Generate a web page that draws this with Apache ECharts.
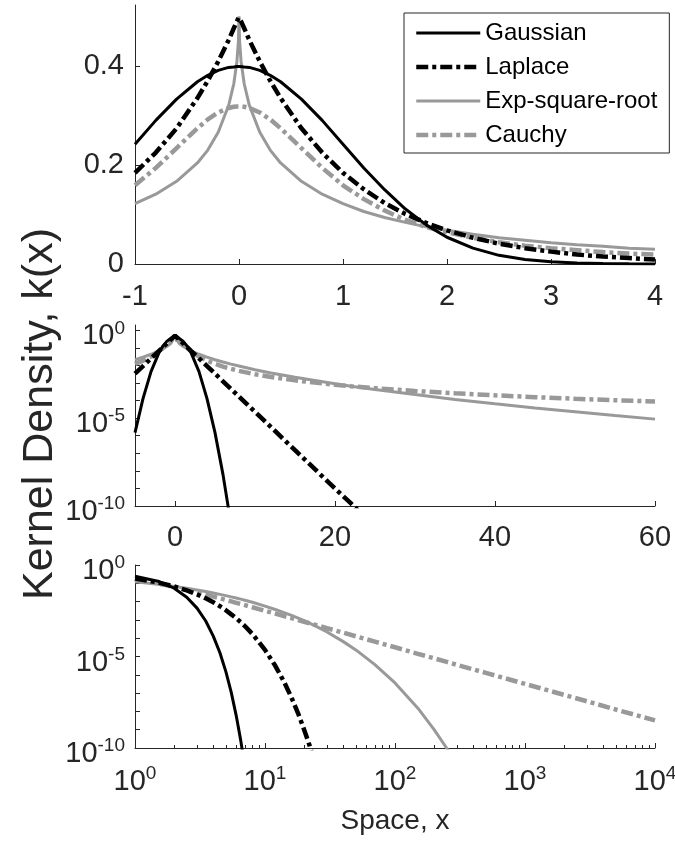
<!DOCTYPE html>
<html>
<head>
<meta charset="utf-8">
<script src="https://cdn.jsdelivr.net/npm/echarts@6/dist/echarts.min.js"></script>
<style>
html, body { margin: 0; padding: 0; background: #fff; }
#main { width: 675px; height: 841px; }
</style>
</head>
<body>
<div id="main"></div>
<script>
var names = ['Gaussian', 'Laplace', 'Exp-square-root', 'Cauchy'];

// top panel, linear axes
var x1 = [-1, -0.8, -0.6, -0.4, -0.3, -0.2, -0.1, -0.05, -0.02, -0.005, 0, 0.005, 0.02, 0.05, 0.1, 0.2, 0.3, 0.4, 0.6, 0.8,
    1, 1.2, 1.4, 1.6, 1.8, 2, 2.25, 2.5, 2.75, 3, 3.25, 3.5, 3.75, 4];
var gauss1 = [0.242, 0.290, 0.333, 0.368, 0.381, 0.391, 0.397, 0.398, 0.399, 0.399, 0.399, 0.399, 0.399, 0.398, 0.397, 0.391, 0.381, 0.368, 0.333, 0.290,
    0.242, 0.194, 0.150, 0.111, 0.079, 0.054, 0.032, 0.0175, 0.0091, 0.0044, 0.0020, 0.0009, 0.0004, 0.0001];
var laplace1 = [0.184, 0.225, 0.274, 0.335, 0.370, 0.409, 0.452, 0.476, 0.490, 0.4975, 0.5, 0.4975, 0.490, 0.476, 0.452, 0.409, 0.370, 0.335, 0.274, 0.225,
    0.184, 0.151, 0.123, 0.101, 0.083, 0.068, 0.053, 0.041, 0.032, 0.025, 0.019, 0.015, 0.012, 0.009];
var expsq1 = [0.122, 0.141, 0.167, 0.204, 0.230, 0.266, 0.320, 0.364, 0.409, 0.452, 0.5, 0.452, 0.409, 0.364, 0.320, 0.266, 0.230, 0.204, 0.167, 0.141,
    0.122, 0.106, 0.094, 0.084, 0.075, 0.068, 0.060, 0.053, 0.048, 0.043, 0.039, 0.036, 0.032, 0.030];
var cauchy1 = [0.159, 0.194, 0.234, 0.274, 0.292, 0.306, 0.315, 0.3175, 0.318, 0.318, 0.318, 0.318, 0.318, 0.3175, 0.315, 0.306, 0.292, 0.274, 0.234, 0.194,
    0.159, 0.131, 0.108, 0.089, 0.075, 0.064, 0.053, 0.044, 0.037, 0.032, 0.028, 0.024, 0.021, 0.019];

// middle panel, log y
var x2 = [-5, -4, -3, -2, -1.5, -1, -0.5, 0, 0.5, 1, 1.5, 2, 3, 4, 5, 6, 7, 8, 10, 12, 15, 20, 22, 25, 30, 35, 40, 45, 50, 55, 60];
var gauss2 = [1.5e-6, 1.3e-4, 4.4e-3, 0.054, 0.130, 0.242, 0.352, 0.399, 0.352, 0.242, 0.130, 0.054, 4.4e-3, 1.3e-4, 1.5e-6, 6.1e-9, 9.1e-12,
    null, null, null, null, null, null, null, null, null, null, null, null, null, null];
var laplace2 = [3.4e-3, 9.2e-3, 0.0249, 0.0677, 0.112, 0.184, 0.303, 0.5, 0.303, 0.184, 0.112, 0.0677, 0.0249, 9.2e-3, 3.4e-3, 1.24e-3, 4.6e-4,
    1.7e-4, 2.3e-5, 3.1e-6, 1.5e-7, 1.0e-9, 1.4e-10, 6.9e-12, null, null, null, null, null, null, null];
var expsq2 = [0.0212, 0.0296, 0.0432, 0.0677, 0.0885, 0.122, 0.184, 0.5, 0.184, 0.122, 0.0885, 0.0677, 0.0432, 0.0296, 0.0212, 0.0157, 0.0119,
    9.2e-3, 5.7e-3, 3.7e-3, 2.1e-3, 9.0e-4, 6.6e-4, 4.3e-4, 2.2e-4, 1.16e-4, 6.5e-5, 3.8e-5, 2.3e-5, 1.4e-5, 8.8e-6];
var cauchy2 = [0.0122, 0.0187, 0.0318, 0.0637, 0.098, 0.159, 0.255, 0.318, 0.255, 0.159, 0.098, 0.0637, 0.0318, 0.0187, 0.0122, 8.6e-3, 6.4e-3,
    4.9e-3, 3.15e-3, 2.2e-3, 1.41e-3, 7.9e-4, 6.6e-4, 5.1e-4, 3.5e-4, 2.6e-4, 2.0e-4, 1.57e-4, 1.27e-4, 1.05e-4, 8.8e-5];

// bottom panel, log-log
var x3 = [1, 1.5, 2, 2.5, 3, 3.5, 4, 4.5, 5, 5.5, 6, 6.5, 7, 8, 10, 12, 14, 16, 18, 20, 22, 25, 30, 40, 50, 70, 100, 150, 200, 250, 300,
    500, 1000, 2000, 5000, 10000];
var gauss3 = [0.242, 0.130, 0.054, 0.0175, 4.4e-3, 8.7e-4, 1.3e-4, 1.6e-5, 1.5e-6, 1.1e-7, 6.1e-9, 2.7e-10, 9.1e-12,
    null, null, null, null, null, null, null, null, null, null, null, null, null, null, null, null, null, null, null, null, null, null, null];
var laplace3 = [0.184, 0.112, 0.0677, 0.0410, 0.0249, 0.0151, 9.2e-3, 5.6e-3, 3.4e-3, 2.0e-3, 1.24e-3, 7.5e-4, 4.6e-4, 1.7e-4, 2.3e-5, 3.1e-6,
    4.2e-7, 5.6e-8, 7.6e-9, 1.0e-9, 1.4e-10, 6.9e-12, null, null, null, null, null, null, null, null, null, null, null, null, null, null];
var expsq3 = [0.122, 0.0885, 0.0677, 0.0534, 0.0432, 0.0355, 0.0296, 0.0249, 0.0212, 0.0181, 0.0157, 0.0136, 0.0119, 9.2e-3, 5.7e-3, 3.7e-3,
    2.5e-3, 1.75e-3, 1.24e-3, 9.0e-4, 6.6e-4, 4.3e-4, 2.2e-4, 6.5e-5, 2.3e-5, 3.6e-6, 3.6e-7, 1.5e-8, 1.0e-9, 9.7e-11, 1.2e-11,
    null, null, null, null, null];
var cauchy3 = [0.159, 0.098, 0.0637, 0.0439, 0.0318, 0.0240, 0.0187, 0.0150, 0.0122, 0.0102, 8.6e-3, 7.4e-3, 6.4e-3, 4.9e-3, 3.15e-3, 2.2e-3,
    1.6e-3, 1.24e-3, 9.8e-4, 7.9e-4, 6.6e-4, 5.1e-4, 3.5e-4, 2.0e-4, 1.27e-4, 6.5e-5, 3.2e-5, 1.4e-5, 8.0e-6, 5.1e-6, 3.5e-6,
    1.27e-6, 3.2e-7, 8.0e-8, 1.27e-8, 3.2e-9];

// tick positions
var ticks1x = [-1, 0, 1, 2, 3, 4];
var ticks1y = [0, 0.2, 0.4];
var ticks2x = [0, 20, 40, 60];
var decadesY = [1e-10, 1e-9, 1e-8, 1e-7, 1e-6, 1e-5, 1e-4, 1e-3, 1e-2, 1e-1, 1];
var labelsLogY = [1e-10, 1e-5, 1];
var ticks3x = [1, 10, 100, 1000, 10000];
var minor3x = [2, 3, 4, 5, 6, 7, 8, 9, 20, 30, 40, 50, 60, 70, 80, 90, 200, 300, 400, 500, 600, 700, 800, 900,
    2000, 3000, 4000, 5000, 6000, 7000, 8000, 9000];

var FONT = '"Liberation Sans", Arial, Helvetica, sans-serif';
var TXT = '#262626';

var styles = {
    'Gaussian': { color: '#000000', width: 3, type: 'solid' },
    'Laplace': { color: '#000000', width: 4.5, type: [12, 4, 4, 4] },
    'Exp-square-root': { color: '#999999', width: 3, type: 'solid' },
    'Cauchy': { color: '#999999', width: 4.5, type: [12, 4, 4, 4] }
};

function pairs(xs, ys) {
    var out = [];
    for (var i = 0; i < xs.length; i++) {
        if (ys[i] != null) out.push([xs[i], ys[i]]);
    }
    return out;
}

function sup(v) {
    return '{b|10}{s|' + Math.round(Math.log10(v)) + '}';
}

var supRich = {
    b: { fontSize: 29, fontFamily: FONT, color: TXT, lineHeight: 29, verticalAlign: 'bottom' },
    s: { fontSize: 19, fontFamily: FONT, color: TXT, lineHeight: 19, verticalAlign: 'bottom', padding: [0, 0, 13, 0] }
};

function axisBase() {
    return {
        axisLine: { show: true, onZero: false, lineStyle: { color: TXT, width: 1 } },
        axisTick: { show: true, inside: true, length: 5, lineStyle: { color: TXT, width: 1 } },
        axisLabel: { color: TXT, fontFamily: FONT, fontSize: 29 },
        splitLine: { show: false }
    };
}

function mergeAxis(extra) {
    var a = axisBase();
    for (var k in extra) {
        if (typeof extra[k] === 'object' && a[k] && !Array.isArray(extra[k])) {
            for (var j in extra[k]) a[k][j] = extra[k][j];
        } else {
            a[k] = extra[k];
        }
    }
    return a;
}

var xAxes = [
    mergeAxis({ type: 'value', gridIndex: 0, position: 'bottom', min: -1, max: 4,
        axisTick: { customValues: ticks1x }, axisLabel: { customValues: ticks1x, margin: 18 } }),
    mergeAxis({ type: 'value', gridIndex: 1, position: 'bottom', min: -5, max: 60,
        axisTick: { customValues: ticks2x }, axisLabel: { customValues: ticks2x, margin: 17 } }),
    mergeAxis({ type: 'log', logBase: 10, gridIndex: 2, position: 'bottom', min: 1, max: 10000,
        axisTick: { customValues: ticks3x }, axisLabel: { customValues: ticks3x, margin: 19, formatter: sup, rich: supRich } }),
    mergeAxis({ type: 'log', logBase: 10, gridIndex: 2, position: 'bottom', min: 1, max: 10000,
        axisLine: { show: false }, axisTick: { customValues: minor3x, length: 3 }, axisLabel: { show: false } })
];

var yAxes = [
    mergeAxis({ type: 'value', gridIndex: 0, min: 0, max: 0.523,
        axisTick: { customValues: ticks1y }, axisLabel: { customValues: ticks1y, margin: 11 } }),
    mergeAxis({ type: 'log', logBase: 10, gridIndex: 1, min: 1e-10, max: 2,
        axisTick: { customValues: decadesY },
        axisLabel: { customValues: labelsLogY, margin: 10, padding: [12, 0, 0, 0], formatter: sup, rich: supRich } }),
    mergeAxis({ type: 'log', logBase: 10, gridIndex: 2, min: 1e-10, max: 1,
        axisTick: { customValues: decadesY },
        axisLabel: { customValues: labelsLogY, margin: 10, padding: [12, 0, 0, 0], formatter: sup, rich: supRich } })
];

var panels = [
    { xi: 0, yi: 0, xs: x1, ys: [gauss1, laplace1, expsq1, cauchy1] },
    { xi: 1, yi: 1, xs: x2, ys: [gauss2, laplace2, expsq2, cauchy2] },
    { xi: 2, yi: 2, xs: x3, ys: [gauss3, laplace3, expsq3, cauchy3] }
];

var series = [];
panels.forEach(function (p) {
    for (var i = 0; i < names.length; i++) {
        var st = styles[names[i]];
        series.push({
            name: names[i],
            type: 'line',
            xAxisIndex: p.xi,
            yAxisIndex: p.yi,
            data: pairs(p.xs, p.ys[i]),
            symbol: 'none',
            clip: true,
            z: 10 - i,
            itemStyle: { color: st.color },
            lineStyle: { color: st.color, width: st.width, type: st.type }
        });
    }
});

var chart = echarts.init(document.getElementById('main'), null, { renderer: 'canvas' });
chart.setOption({
    animation: false,
    backgroundColor: '#ffffff',
    grid: [
        { left: 135, top: 5, width: 520, height: 259, containLabel: false, outerBoundsMode: 'none' },
        { left: 135, top: 325, width: 520, height: 181, containLabel: false, outerBoundsMode: 'none' },
        { left: 135, top: 565, width: 520, height: 183, containLabel: false, outerBoundsMode: 'none' }
    ],
    legend: {
        data: names,
        orient: 'vertical',
        left: 404,
        top: 13,
        padding: [8, 12, 6, 10],
        itemWidth: 64,
        itemHeight: 14,
        itemGap: 10,
        borderColor: TXT,
        borderWidth: 1,
        backgroundColor: '#ffffff',
        itemStyle: { opacity: 0 },
        lineStyle: { width: 'inherit' },
        textStyle: { color: '#000000', fontFamily: FONT, fontSize: 24, lineHeight: 24 }
    },
    xAxis: xAxes,
    yAxis: yAxes,
    series: series,
    graphic: [
        {
            type: 'text', x: 40, y: 414, rotation: Math.PI / 2,
            style: { text: 'Kernel Density, k(x)', fontSize: 43, fontFamily: FONT, fill: TXT, align: 'center', verticalAlign: 'middle' }
        },
        {
            type: 'text', x: 395, y: 821,
            style: { text: 'Space, x', fontSize: 28, fontFamily: FONT, fill: TXT, align: 'center', verticalAlign: 'middle' }
        }
    ]
});
</script>
</body>
</html>
